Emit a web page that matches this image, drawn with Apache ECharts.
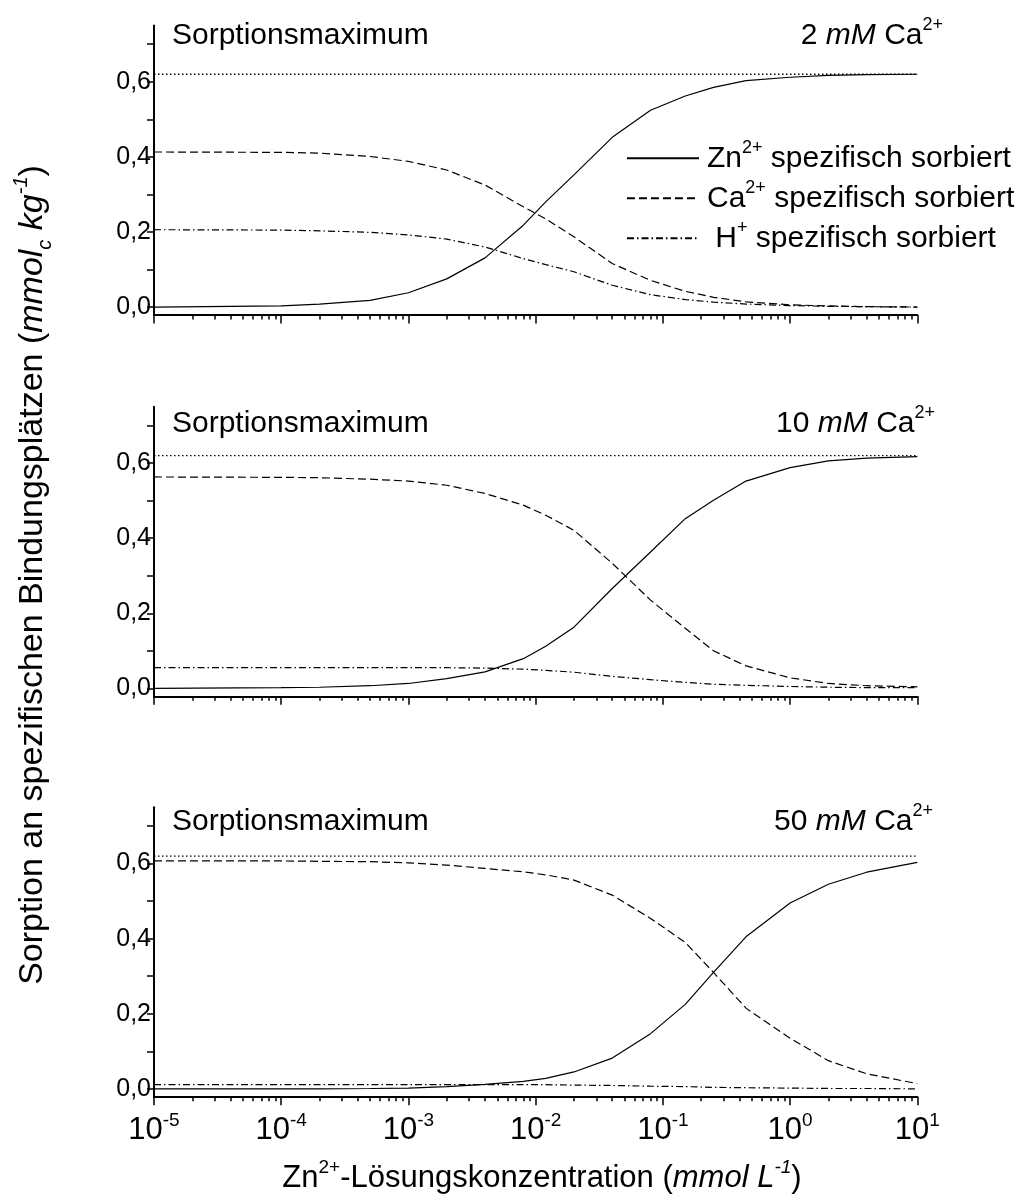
<!DOCTYPE html>
<html><head><meta charset="utf-8">
<script src="https://cdn.jsdelivr.net/npm/echarts@6/dist/echarts.min.js"></script>
<style>html,body{margin:0;padding:0;background:#fff}#c{width:1032px;height:1198px}</style>
</head><body><div id="c"></div>
<script>
// ---------------- data ----------------
const X = [1e-5,1e-4,2e-4,5e-4,1e-3,2e-3,4e-3,8e-3,1.2e-2,2e-2,4e-2,8e-2,0.15,0.25,0.45,1,2,4,10];
const zn_2mM  = [0.000,0.003,0.008,0.018,0.038,0.075,0.131,0.218,0.280,0.352,0.452,0.524,0.562,0.585,0.603,0.612,0.617,0.619,0.620];
const ca_2mM  = [0.413,0.412,0.410,0.401,0.388,0.365,0.325,0.267,0.235,0.187,0.116,0.071,0.042,0.026,0.014,0.006,0.003,0.001,0.000];
const h_2mM   = [0.206,0.205,0.203,0.199,0.192,0.181,0.160,0.129,0.113,0.094,0.058,0.033,0.020,0.013,0.008,0.004,0.002,0.001,0.000];
const zn_10mM = [0.000,0.002,0.003,0.007,0.013,0.026,0.044,0.079,0.112,0.163,0.266,0.363,0.452,0.501,0.552,0.588,0.606,0.613,0.617];
const ca_10mM = [0.563,0.562,0.561,0.557,0.552,0.541,0.519,0.488,0.461,0.421,0.333,0.235,0.160,0.100,0.060,0.028,0.013,0.007,0.004];
const h_10mM  = [0.055,0.055,0.055,0.055,0.055,0.055,0.054,0.051,0.048,0.043,0.032,0.023,0.016,0.011,0.008,0.005,0.003,0.002,0.002];
const zn_50mM = [0.000,0.000,0.000,0.001,0.002,0.006,0.012,0.020,0.028,0.045,0.082,0.147,0.225,0.310,0.405,0.495,0.545,0.577,0.603];
const ca_50mM = [0.607,0.607,0.606,0.605,0.602,0.596,0.587,0.578,0.570,0.556,0.516,0.454,0.390,0.310,0.215,0.135,0.075,0.040,0.014];
const h_50mM  = [0.011,0.011,0.011,0.011,0.011,0.011,0.011,0.011,0.011,0.010,0.009,0.007,0.006,0.004,0.003,0.002,0.001,0.001,0.000];
const sorptionMax = 0.62;
const calciumLevels = ['2','10','50'];
const xDecadeExponents = [-5,-4,-3,-2,-1,0,1];
const yTickValues = [0,0.1,0.2,0.3,0.4,0.5,0.6,0.7];
const yLabelValues = [0,0.2,0.4,0.6];

// ---------------- layout / style ----------------
const F = "'Liberation Sans', Arial, Helvetica, sans-serif";
const LAY = {left:154, width:763.3, tops:[25.45,406.75,807.25], height:289.6,
  labelMid:[35.5,424,822], rightEdge:[943,935,933]};
const Y_MIN = -0.0213, Y_MAX = 0.75;
const X_MIN = Math.pow(10, xDecadeExponents[0]), X_MAX = Math.pow(10, xDecadeExponents[xDecadeExponents.length-1]);
const LINE = {Zn:'solid', Ca:[8,4], H:[7,3,1.5,3], Max:[1.5,2.5]};
const FS = 30;

const panels = [
  {zn:zn_2mM, ca:ca_2mM, h:h_2mM},
  {zn:zn_10mM, ca:ca_10mM, h:h_10mM},
  {zn:zn_50mM, ca:ca_50mM, h:h_50mM}
];

function optRich(s){
  const lh = Math.round(s*1.3), ss = Math.round(s*0.6);
  return {
    n:{fontSize:s, fontFamily:F, color:'#000', lineHeight:lh},
    i:{fontSize:s, fontFamily:F, fontStyle:'italic', color:'#000', lineHeight:lh},
    sup:{fontSize:ss, fontFamily:F, color:'#000', verticalAlign:'top', lineHeight:ss},
    supi:{fontSize:ss, fontFamily:F, fontStyle:'italic', color:'#000', verticalAlign:'top', lineHeight:ss},
    sub:{fontSize:ss, fontFamily:F, fontStyle:'italic', color:'#000', verticalAlign:'bottom', lineHeight:ss}
  };
}
function zrRich(s){
  const r = optRich(s), o = {};
  Object.keys(r).forEach(k=>{ const v=Object.assign({},r[k]); v.fill=v.color; delete v.color; o[k]=v; });
  return o;
}

const minorLog = [];
for (let n = xDecadeExponents[0]; n < xDecadeExponents[xDecadeExponents.length-1]; n++)
  for (let k = 2; k <= 9; k++) minorLog.push(n + Math.log10(k));

const grid = [], xAxis = [], yAxis = [], series = [], graphic = [];
panels.forEach((p, i) => {
  const top = LAY.tops[i];
  grid.push({left:LAY.left, top:top, width:LAY.width, height:LAY.height, containLabel:false});
  const isLast = i === panels.length-1;
  xAxis.push({
    type:'log', logBase:10, min:X_MIN, max:X_MAX, splitNumber:6, gridIndex:i, position:'bottom',
    axisLine:{onZero:false, lineStyle:{color:'#000', width:2}},
    axisTick:{show:true, length:8.5, lineStyle:{color:'#000', width:1.5}},
    splitLine:{show:false}, minorTick:{show:false},
    axisLabel:{show:isLast, margin:14, rich:optRich(31),
      formatter:(v)=>'{n|10}{sup|'+Math.round(Math.log10(v))+'}'}
  });
  xAxis.push({
    type:'value', min:Math.log10(X_MIN), max:Math.log10(X_MAX), gridIndex:i, position:'bottom',
    axisLine:{show:false, onZero:false}, splitLine:{show:false}, axisLabel:{show:false},
    axisTick:{show:true, length:4.5, customValues:minorLog, lineStyle:{color:'#000', width:1.5}}
  });
  yAxis.push({
    type:'value', min:Y_MIN, max:Y_MAX, gridIndex:i,
    axisLine:{show:true, onZero:false, lineStyle:{color:'#000', width:2}},
    axisTick:{show:true, length:7, customValues:yTickValues, lineStyle:{color:'#000', width:1.5}},
    splitLine:{show:false},
    axisLabel:{show:true, margin:3, customValues:yLabelValues, fontSize:25, fontFamily:F, color:'#000',
      formatter:(v)=>v.toFixed(1).replace('.',',')}
  });
  const mk = (name, ys, type) => ({
    name:name, type:'line', xAxisIndex:2*i, yAxisIndex:i, symbol:'none', smooth:false, silent:true,
    lineStyle:{color:'#000', width:1.2, type:type}, itemStyle:{color:'#000'},
    data: X.map((x,j)=>[x, ys[j]])
  });
  series.push({
    name:'Sorptionsmaximum', type:'line', xAxisIndex:2*i, yAxisIndex:i, symbol:'none', silent:true,
    lineStyle:{color:'#000', width:1.3, type:LINE.Max}, itemStyle:{color:'#000'},
    data:[[X_MIN, sorptionMax],[X_MAX, sorptionMax]]
  });
  series.push(mk('Zn', p.zn, LINE.Zn));
  series.push(mk('Ca', p.ca, LINE.Ca));
  series.push(mk('H', p.h, LINE.H));

  graphic.push({type:'text', x:172, y:LAY.labelMid[i], silent:true,
    style:{text:'{n|Sorptionsmaximum}', rich:zrRich(FS), align:'left', verticalAlign:'middle'}});
  graphic.push({type:'text', x:LAY.rightEdge[i], y:LAY.labelMid[i], silent:true,
    style:{text:'{n|'+calciumLevels[i]+' }{i|mM}{n| Ca}{sup|2+}', rich:zrRich(FS), align:'right', verticalAlign:'middle'}});
});

graphic.push({type:'text', x:33, y:575, rotation:Math.PI/2, silent:true,
  style:{text:'{n|Sorption an spezifischen Bindungsplätzen (}{i|mmol}{sub|c}{i| kg}{supi|-1}{n|)}',
    rich:zrRich(34), align:'center', verticalAlign:'middle'}});
graphic.push({type:'text', x:542, y:1178, silent:true,
  style:{text:'{n|Zn}{sup|2+}{n|-Lösungskonzentration (}{i|mmol L}{supi|-1}{n|)}',
    rich:zrRich(31), align:'center', verticalAlign:'middle'}});

const legendNames = {
  Zn:'{n|Zn}{sup|2+}{n| spezifisch sorbiert}',
  Ca:'{n|Ca}{sup|2+}{n| spezifisch sorbiert}',
  H:'{n| H}{sup|+}{n| spezifisch sorbiert}'
};

const chart = echarts.init(document.getElementById('c'), null, {renderer:'canvas'});
chart.setOption({
  animation:false,
  backgroundColor:'#fff',
  grid, xAxis, yAxis, series, graphic,
  legend:{
    data:['Zn','Ca','H'], orient:'vertical', left:626, top:138.8, padding:0, itemGap:5.5,
    itemWidth:72, itemHeight:14, selectedMode:false,
    itemStyle:{opacity:0},
    textStyle:{rich:optRich(FS), fontSize:FS, fontFamily:F, color:'#000', padding:[0,0,0,3]},
    formatter:(name)=>legendNames[name]
  }
});
</script>
</body></html>
